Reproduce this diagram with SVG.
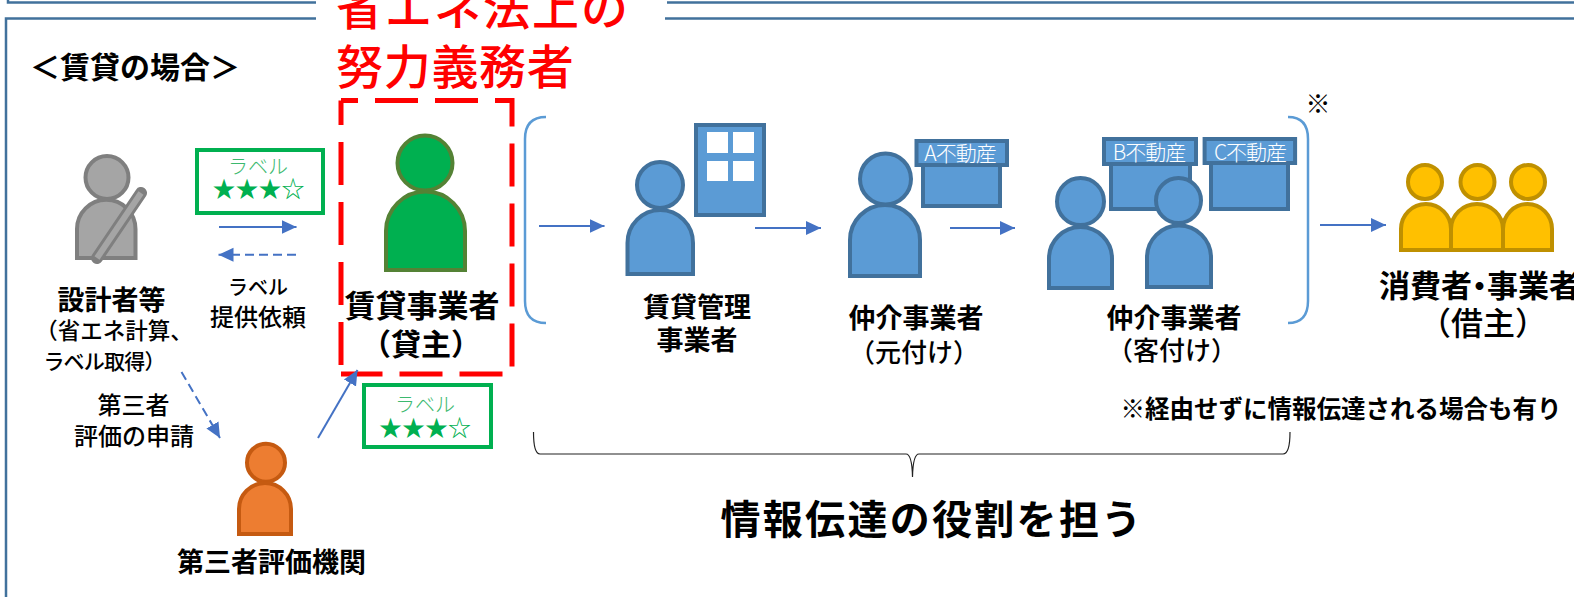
<svg xmlns="http://www.w3.org/2000/svg" width="1574" height="597" viewBox="0 0 1574 597">
<style>
text{font-family:"Noto Sans CJK JP","Liberation Sans",sans-serif;fill:#000;text-anchor:middle}
.b{font-weight:700;font-size:27px}
.m{font-weight:500;font-size:24px}
.r{font-weight:500;font-size:47px;fill:#f00;text-anchor:start;letter-spacing:.7px}
.lb{fill:#fff;stroke:#00b050;stroke-width:4}
.lt{fill:#3cb96e;font-size:20px;font-weight:300}
.st{fill:#00b050;font-size:23px}
.w{fill:#fff;font-size:21px;font-weight:300;letter-spacing:-1px}
.blue path,.blue rect.f,.blue circle{fill:#5b9bd5;stroke:#41719c;stroke-width:4}
.line{stroke:#4472c4;stroke-width:2;fill:none}
.frame{stroke:#41719c;stroke-width:2.500;fill:none}
.red{fill:none;stroke:#f00;stroke-width:5;stroke-dasharray:43 17}
</style>
<defs>
<marker id="a" markerUnits="userSpaceOnUse" markerWidth="15" markerHeight="16" refX="15" refY="8" orient="auto"><path d="M0 1L15 8L0 15Z" fill="#4472c4"/></marker>
</defs>
<g id="frame">
<path class="frame" d="M8 0V2.500H316M667 2.500H1574"/>
<path class="frame" d="M6 597V18.500H316M665 18.500H1574"/>
</g>
<g id="title"><text x="135" y="78" style="font-size:30px;font-weight:700">＜賃貸の場合＞</text></g>
<g id="duty">
<text class="r" x="336" y="25" style="letter-spacing:2px">省エネ法上の</text>
<text class="r" x="336" y="84">努力義務者</text>
</g>
<g id="owner-box">
<path class="red" d="M341 100.500H512V374H341" stroke-dashoffset="26"/>
<path class="red" d="M341 365V100.500"/>
</g>
<g id="designer">
<circle cx="107" cy="177.500" r="21.500" fill="#a5a5a5" stroke="#7f7f7f" stroke-width="4"/>
<path d="M77 258V229A29 29 0 0 1 135.500 229V258Z" fill="#a5a5a5" stroke="#7f7f7f" stroke-width="4"/>
<path d="M97 258L141 193" stroke="#7f7f7f" stroke-width="12" stroke-linecap="round"/>
<path d="M97 258L141 193" stroke="#a5a5a5" stroke-width="6"/>
<text class="b" x="111.500" y="310">設計者等</text>
<text class="m" x="114" y="339" style="font-size:22.500px">（省エネ計算、</text>
<text class="m" x="104" y="369" style="font-size:21px;letter-spacing:-.8px">ラベル取得）</text>
</g>
<g id="label-1">
<rect class="lb" x="197" y="150" width="126" height="63"/>
<text class="lt" x="258" y="174">ラベル</text>
<text class="st" x="258.500" y="197">★★★☆</text>
</g>
<g id="label-2">
<rect class="lb" x="364" y="385" width="127" height="62"/>
<text class="lt" x="425" y="412">ラベル</text>
<text class="st" x="425" y="436">★★★☆</text>
</g>
<g id="label-request">
<text class="m" x="258" y="295" style="font-size:20px">ラベル</text>
<text class="m" x="258" y="326">提供依頼</text>
</g>
<g id="owner">
<circle cx="425" cy="163" r="27.500" fill="#00b050" stroke="#548235" stroke-width="4"/>
<path d="M386 270V231A39.500 39.500 0 0 1 465 231V270Z" fill="#00b050" stroke="#548235" stroke-width="4"/>
<text class="b" x="422" y="317" style="font-size:31px">賃貸事業者</text>
<text class="b" x="421" y="355" style="font-size:30px">（貸主）</text>
</g>
<g id="evaluator">
<circle cx="266" cy="462.700" r="19" fill="#ed7d31" stroke="#c55a11" stroke-width="4"/>
<path d="M239 534V509A26 26 0 0 1 291 509V534Z" fill="#ed7d31" stroke="#c55a11" stroke-width="4"/>
<text class="b" x="271.500" y="572">第三者評価機関</text>
</g>
<g id="third-party-request">
<text class="m" x="133.500" y="414">第三者</text>
<text class="m" x="134" y="445">評価の申請</text>
</g>
<g id="manager" class="blue">
<rect class="f" x="696" y="125" width="68" height="90"/>
<g fill="#fff"><rect x="707" y="132" width="21" height="21"/><rect x="733" y="132" width="21" height="21"/><rect x="707" y="161" width="21" height="20"/><rect x="733" y="161" width="21" height="20"/></g>
<circle cx="660" cy="185" r="23"/>
<path d="M627.500 274V243A32.750 33 0 0 1 693 243V274Z"/>
<text class="b" x="697" y="317">賃貸管理</text>
<text class="b" x="697" y="350">事業者</text>
</g>
<g id="agent-a" class="blue">
<rect class="f" x="923" y="165" width="77" height="41"/>
<rect class="f" x="916.500" y="141" width="90.500" height="24"/>
<text class="w" x="960" y="161">A不動産</text>
<circle cx="885.500" cy="179" r="25.500"/>
<path d="M850 276V240A35 35 0 0 1 920 240V276Z"/>
<text class="b" x="916" y="328">仲介事業者</text>
<text class="m" x="914" y="362" style="font-size:26px">（元付け）</text>
</g>
<g id="agent-bc" class="blue">
<rect class="f" x="1111" y="164" width="79" height="45"/>
<rect class="f" x="1104" y="139" width="92" height="25"/>
<text class="w" x="1149" y="160">B不動産</text>
<rect class="f" x="1211" y="163" width="77" height="46"/>
<rect class="f" x="1204.600" y="139" width="90.500" height="24"/>
<text class="w" x="1250" y="160">C不動産</text>
<circle cx="1080.500" cy="201.500" r="23.500"/>
<path d="M1049 288V258.500A31.500 31.500 0 0 1 1112 258.500V288Z"/>
<circle cx="1178.500" cy="200.500" r="22.500"/>
<path d="M1147 287V257.500A32 32 0 0 1 1211 257.500V287Z"/>
<text class="b" x="1174" y="328">仲介事業者</text>
<text class="m" x="1172" y="360" style="font-size:26px">（客付け）</text>
</g>
<g id="consumer">
<g fill="#ffc000" stroke="#bf9000" stroke-width="4">
<circle cx="1425" cy="182" r="17"/><circle cx="1477.500" cy="182" r="17"/><circle cx="1528" cy="182" r="17"/>
<path d="M1401 250V229A25 25 0 0 1 1451 229V250Z"/>
<path d="M1451 250V229A26 25 0 0 1 1503 229V250Z"/>
<path d="M1503 250V229A24.500 25 0 0 1 1552 229V250Z"/>
</g>
<text class="b" x="1379" y="297" style="font-size:31px;text-anchor:start">消費者<tspan dx="-8">・</tspan><tspan dx="-8">事業者</tspan></text>
<text class="m" x="1483" y="335" style="font-size:32px">（借主）</text>
</g>
<g id="notes">
<text x="1318" y="113" style="font-size:25px;font-weight:700">※</text>
<text x="1341" y="418" style="font-size:24.500px;font-weight:700">※経由せずに情報伝達される場合も有り</text>
<text x="932" y="534" style="font-size:40px;font-weight:700;letter-spacing:2.300px">情報伝達の役割を担う</text>
</g>
<g id="connectors">
<path class="line" d="M219 227H296.500" marker-end="url(#a)"/>
<path class="line" d="M296 254.700H218.500" stroke-dasharray="9 5" marker-end="url(#a)"/>
<path class="line" d="M181.500 372L220 438" stroke-dasharray="9 5" marker-end="url(#a)"/>
<path class="line" d="M318 438L357.500 370" marker-end="url(#a)"/>
<path class="line" d="M539 226H604.500" marker-end="url(#a)"/>
<path class="line" d="M755 228H821" marker-end="url(#a)"/>
<path class="line" d="M950 228H1015" marker-end="url(#a)"/>
<path class="line" d="M1320 225H1386" marker-end="url(#a)"/>
<path d="M546 117Q525 117 525 139V301Q525 323 546 323M1288 117Q1308 117 1308 139V301Q1308 323 1288 323" fill="none" stroke="#5b9bd5" stroke-width="2.500"/>
<path d="M533.500 432Q533.500 454 540 454H906Q912 454 912.500 477Q913 454 919 454H1283Q1290 454 1290 432" fill="none" stroke="#222" stroke-width="1.200"/>
</g>
</svg>
